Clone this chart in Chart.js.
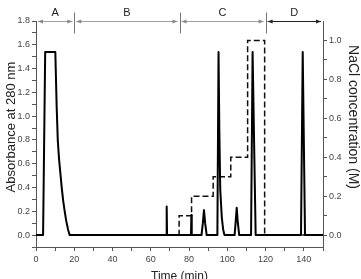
<!DOCTYPE html>
<html lang="en">
<head>
<meta charset="UTF-8" />
<title>Absorbance at 280 nm and NaCl gradient</title>
<script src="https://cdn.jsdelivr.net/npm/chart.js"></script>
<style>
  html, body { margin: 0; padding: 0; background: #fff; }
  #wrap { width: 361px; height: 279px; }
</style>
</head>
<body>
<div id="wrap"><canvas id="chart"></canvas></div>
<script>
  // absorbance trace: time (min) and A280
  const absTime = [0, 3.7, 4.8, 10.1, 10.8, 11.4, 12.1, 12.8, 13.5, 14.2, 15.0, 15.8, 16.7, 17.6,
    68.1, 68.3, 68.5,
    81.0, 81.2, 81.4,
    86.5, 87.2, 87.8, 88.4, 89.2,
    94.8, 95.4, 95.8, 96.3, 97.1, 97.8, 98.5,
    103.8, 104.4, 104.9, 105.4, 106.2,
    112.4, 113.2, 114.8,
    138.5, 139.4, 140.6, 150];
  const absValue = [0, 0, 1.54, 1.54, 1.08, 0.79, 0.63, 0.51, 0.39, 0.29, 0.2, 0.12, 0.05, 0,
    0, 0.24, 0,
    0, 0.17, 0,
    0, 0.1, 0.21, 0.1, 0,
    0, 1.54, 0.9, 0.38, 0.15, 0.05, 0,
    0, 0.12, 0.23, 0.12, 0,
    0, 1.54, 0,
    0, 1.54, 0, 0];

  // NaCl step gradient: each value holds until the next time
  const naclTime = [18, 74.8, 81.3, 92.6, 101.8, 110.6, 119.5, 150];
  const naclValue = [0, 0.1, 0.2, 0.3, 0.4, 1.0, 0, 0];

  // labelled ticks
  const timeTicks = [0, 20, 40, 60, 80, 100, 120, 140];
  const absTicks = [0, 0.2, 0.4, 0.6, 0.8, 1.0, 1.2, 1.4, 1.6, 1.8];
  const naclTicks = [0, 0.2, 0.4, 0.6, 0.8, 1.0];

  // run phases marked above the plot
  const phaseNames = ['A', 'B', 'C', 'D'];
  const phaseBounds = [0, 20, 75, 120, 150];

  const FONT = 'Liberation Sans, Arial, sans-serif';
  const AXIS = '#555';

  function withMinor(majors, step, extra) {
    const out = majors.slice();
    majors.forEach(v => out.push(+(v + step).toFixed(3)));
    (extra || []).forEach(v => out.push(v));
    return out;
  }
  function isMajor(list, v) {
    return list.some(m => Math.abs(m - v) < 1e-6);
  }

  const phasePlugin = {
    id: 'phases',
    afterDatasetsDraw(chart) {
      const { ctx, chartArea, scales } = chart;
      const x = scales.x;
      const yLine = chartArea.top + 0.5;
      ctx.save();
      ctx.strokeStyle = '#777';
      ctx.lineWidth = 1;
      phaseBounds.slice(1, -1).forEach(t => {
        const px = Math.round(x.getPixelForValue(t)) + 0.5;
        ctx.beginPath();
        ctx.moveTo(px, yLine - 9);
        ctx.lineTo(px, yLine + 12);
        ctx.stroke();
      });
      phaseNames.forEach((name, i) => {
        const x0 = x.getPixelForValue(phaseBounds[i]) + 2;
        const x1 = x.getPixelForValue(phaseBounds[i + 1]) - 2;
        const last = i === phaseNames.length - 1;
        ctx.strokeStyle = last ? '#222' : '#888';
        ctx.fillStyle = ctx.strokeStyle;
        ctx.lineWidth = last ? 1.2 : 0.8;
        ctx.beginPath();
        ctx.moveTo(x0, yLine);
        ctx.lineTo(x1, yLine);
        ctx.stroke();
        [[x0, 1], [x1, -1]].forEach(([px, d]) => {
          ctx.beginPath();
          ctx.moveTo(px, yLine);
          ctx.lineTo(px + d * 5, yLine - 2);
          ctx.lineTo(px + d * 5, yLine + 2);
          ctx.closePath();
          ctx.fill();
        });
        ctx.fillStyle = '#222';
        ctx.font = '11px ' + FONT;
        ctx.textAlign = 'center';
        ctx.textBaseline = 'middle';
        ctx.fillText(name, (x0 + x1) / 2, yLine - 9);
      });

      // vertical axis titles
      ctx.fillStyle = '#222';
      ctx.textAlign = 'center';
      ctx.textBaseline = 'middle';
      ctx.save();
      ctx.translate(11, 127);
      ctx.rotate(-Math.PI / 2);
      ctx.font = '13px ' + FONT;
      ctx.fillText('Absorbance at 280 nm', 0, 0);
      ctx.restore();
      ctx.save();
      ctx.translate(352.5, 117);
      ctx.rotate(Math.PI / 2);
      ctx.font = '14px ' + FONT;
      ctx.fillText('NaCl concentration (M)', 0, 0);
      ctx.restore();
      ctx.restore();
    }
  };

  const tickFont = { family: FONT, size: 9 };
  const gridOpts = { drawOnChartArea: false, tickLength: 4, color: AXIS, tickColor: AXIS };

  new Chart(document.getElementById('chart'), {
    type: 'line',
    data: {
      datasets: [
        {
          label: 'Absorbance',
          data: absTime.map((t, i) => ({ x: t, y: absValue[i] })),
          yAxisID: 'y',
          borderColor: '#000',
          borderWidth: 2,
          borderJoinStyle: 'round',
          pointRadius: 0,
          tension: 0
        },
        {
          label: 'NaCl',
          data: naclTime.map((t, i) => ({ x: t, y: naclValue[i] })),
          yAxisID: 'y1',
          borderColor: '#111',
          borderWidth: 1.5,
          borderDash: [6, 3],
          stepped: 'before',
          pointRadius: 0
        }
      ]
    },
    options: {
      responsive: true,
      maintainAspectRatio: false,
      animation: false,
      layout: { padding: { top: 21, left: 0, right: 0, bottom: 0 } },
      plugins: { legend: { display: false }, tooltip: { enabled: false } },
      scales: {
        x: {
          type: 'linear',
          min: 0,
          max: 150,
          afterBuildTicks: s => { s.ticks = withMinor(timeTicks, 10).map(v => ({ value: v })); },
          afterFit: s => { s.height = 32; },
          ticks: {
            autoSkip: false,
            maxRotation: 0,
            padding: 3,
            color: '#444',
            font: tickFont,
            callback: v => isMajor(timeTicks, v) ? String(v) : ''
          },
          grid: gridOpts,
          border: { color: AXIS },
          title: { display: true, text: 'Time (min)', color: '#222', font: { family: FONT, size: 12 }, padding: { top: 0, bottom: -5 } }
        },
        y: {
          position: 'left',
          min: -0.1,
          max: 1.8,
          afterBuildTicks: s => { s.ticks = withMinor(absTicks, 0.1, [-0.1]).filter(v => v <= 1.8).map(v => ({ value: v })); },
          afterFit: s => { s.width = 36; },
          ticks: {
            autoSkip: false,
            padding: 2,
            color: '#444',
            font: tickFont,
            callback: v => isMajor(absTicks, v) ? v.toFixed(1) : ''
          },
          grid: gridOpts,
          border: { color: AXIS }
        },
        y1: {
          position: 'right',
          min: -0.0611,
          max: 1.1,
          afterBuildTicks: s => { s.ticks = withMinor(naclTicks, 0.1).filter(v => v <= 1.05).map(v => ({ value: v })); },
          afterFit: s => { s.width = 38; },
          ticks: {
            autoSkip: false,
            padding: 2,
            color: '#444',
            font: tickFont,
            callback: v => isMajor(naclTicks, v) ? v.toFixed(1) : ''
          },
          grid: gridOpts,
          border: { color: AXIS }
        }
      }
    },
    plugins: [phasePlugin]
  });
</script>
</body>
</html>
